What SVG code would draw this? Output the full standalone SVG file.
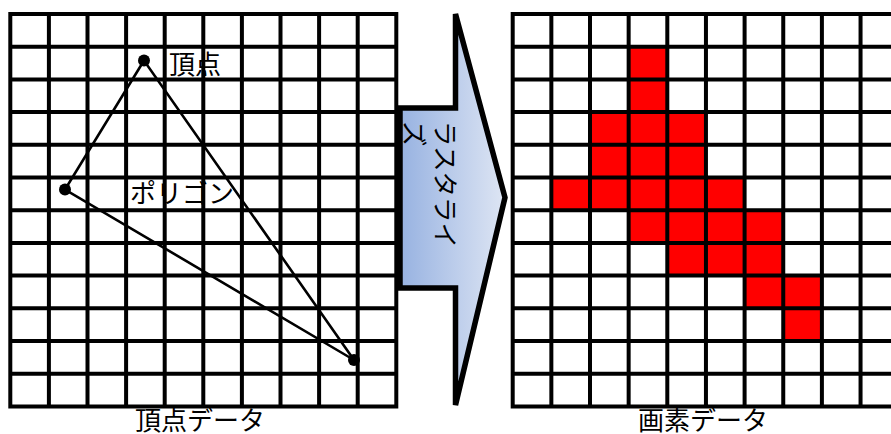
<svg xmlns="http://www.w3.org/2000/svg" width="891" height="434" viewBox="0 0 891 434">
<defs>
<linearGradient id="arrowGrad" x1="400" y1="0" x2="508" y2="0" gradientUnits="userSpaceOnUse">
<stop offset="0" stop-color="#97b2e1"/>
<stop offset="1" stop-color="#e0e7f4"/>
</linearGradient>
<style>
.grid{fill:none;stroke:#000;stroke-width:4}
.px{fill:#ff0000}
.edge{fill:none;stroke:#000;stroke-width:2.6}
.dot{fill:#000}
.lbl{font-family:"Noto Sans CJK JP","Noto Sans",sans-serif;font-size:26px;fill:#000}
.rot{font-family:"Noto Sans CJK JP","Noto Sans",sans-serif;font-size:25.5px;fill:#000}
.ttl{font-family:"Noto Sans CJK JP","Noto Sans",sans-serif;font-size:26px;fill:#000;text-anchor:middle}
</style>
</defs>
<rect width="891" height="434" fill="#fff"/>

<g id="vertex-grid">
<path class="grid" d="M10.3 14V406.4M48.9 14V406.4M87.5 14V406.4M126.1 14V406.4M164.7 14V406.4M203.3 14V406.4M241.9 14V406.4M280.5 14V406.4M319.1 14V406.4M357.7 14V406.4M396.3 14V406.4M8.3 14H398.3M8.3 46.7H398.3M8.3 79.4H398.3M8.3 112.1H398.3M8.3 144.8H398.3M8.3 177.5H398.3M8.3 210.2H398.3M8.3 242.9H398.3M8.3 275.6H398.3M8.3 308.3H398.3M8.3 341H398.3M8.3 373.7H398.3M8.3 406.4H398.3"/>
</g>

<g id="polygon">
<path class="edge" d="M144 60.5L65 189.5L354 360Z"/>
</g>
<g id="vertex-top"><circle class="dot" cx="144" cy="60.5" r="6"/></g>
<g id="vertex-left"><circle class="dot" cx="65" cy="189.5" r="6"/></g>
<g id="vertex-bottom"><circle class="dot" cx="354" cy="360" r="6"/></g>
<g id="label-vertex"><text class="lbl" x="169" y="73.5">頂点</text></g>
<g id="label-polygon"><text class="lbl" x="130" y="203">ポリゴン</text></g>
<g id="title-vertex-data"><text class="ttl" x="200" y="430">頂点データ</text></g>

<g id="rasterize-arrow">
<polygon points="400,108 455.5,108 455.5,14 505,197.5 455.5,405 455.5,288 400,288" fill="url(#arrowGrad)"/>
<text class="rot" transform="translate(436,121) rotate(90)" x="0" y="0">ラスタライ</text>
<text class="rot" transform="translate(405,121) rotate(90)" x="0" y="0">ズ</text>
<polygon points="400,108 455.5,108 455.5,14 505,197.5 455.5,405 455.5,288 400,288" fill="none" stroke="#000" stroke-width="5.5"/>
</g>

<g id="pixel-grid">
<g id="red-pixels">
<rect class="px" x="628.65" y="46.7" width="38.65" height="65.4"/>
<rect class="px" x="590" y="112.1" width="115.95" height="65.4"/>
<rect class="px" x="551.35" y="177.5" width="193.25" height="32.7"/>
<rect class="px" x="628.65" y="210.2" width="154.6" height="32.7"/>
<rect class="px" x="667.3" y="242.9" width="115.95" height="32.7"/>
<rect class="px" x="744.6" y="275.6" width="77.3" height="32.7"/>
<rect class="px" x="783.25" y="308.3" width="38.65" height="32.7"/>
</g>
<path class="grid" d="M512.7 14V406.4M551.35 14V406.4M590 14V406.4M628.65 14V406.4M667.3 14V406.4M705.95 14V406.4M744.6 14V406.4M783.25 14V406.4M821.9 14V406.4M860.55 14V406.4M899.2 14V406.4M510.7 14H901M510.7 46.7H901M510.7 79.4H901M510.7 112.1H901M510.7 144.8H901M510.7 177.5H901M510.7 210.2H901M510.7 242.9H901M510.7 275.6H901M510.7 308.3H901M510.7 341H901M510.7 373.7H901M510.7 406.4H901"/>
</g>
<g id="title-pixel-data"><text class="ttl" x="703" y="430">画素データ</text></g>
</svg>
